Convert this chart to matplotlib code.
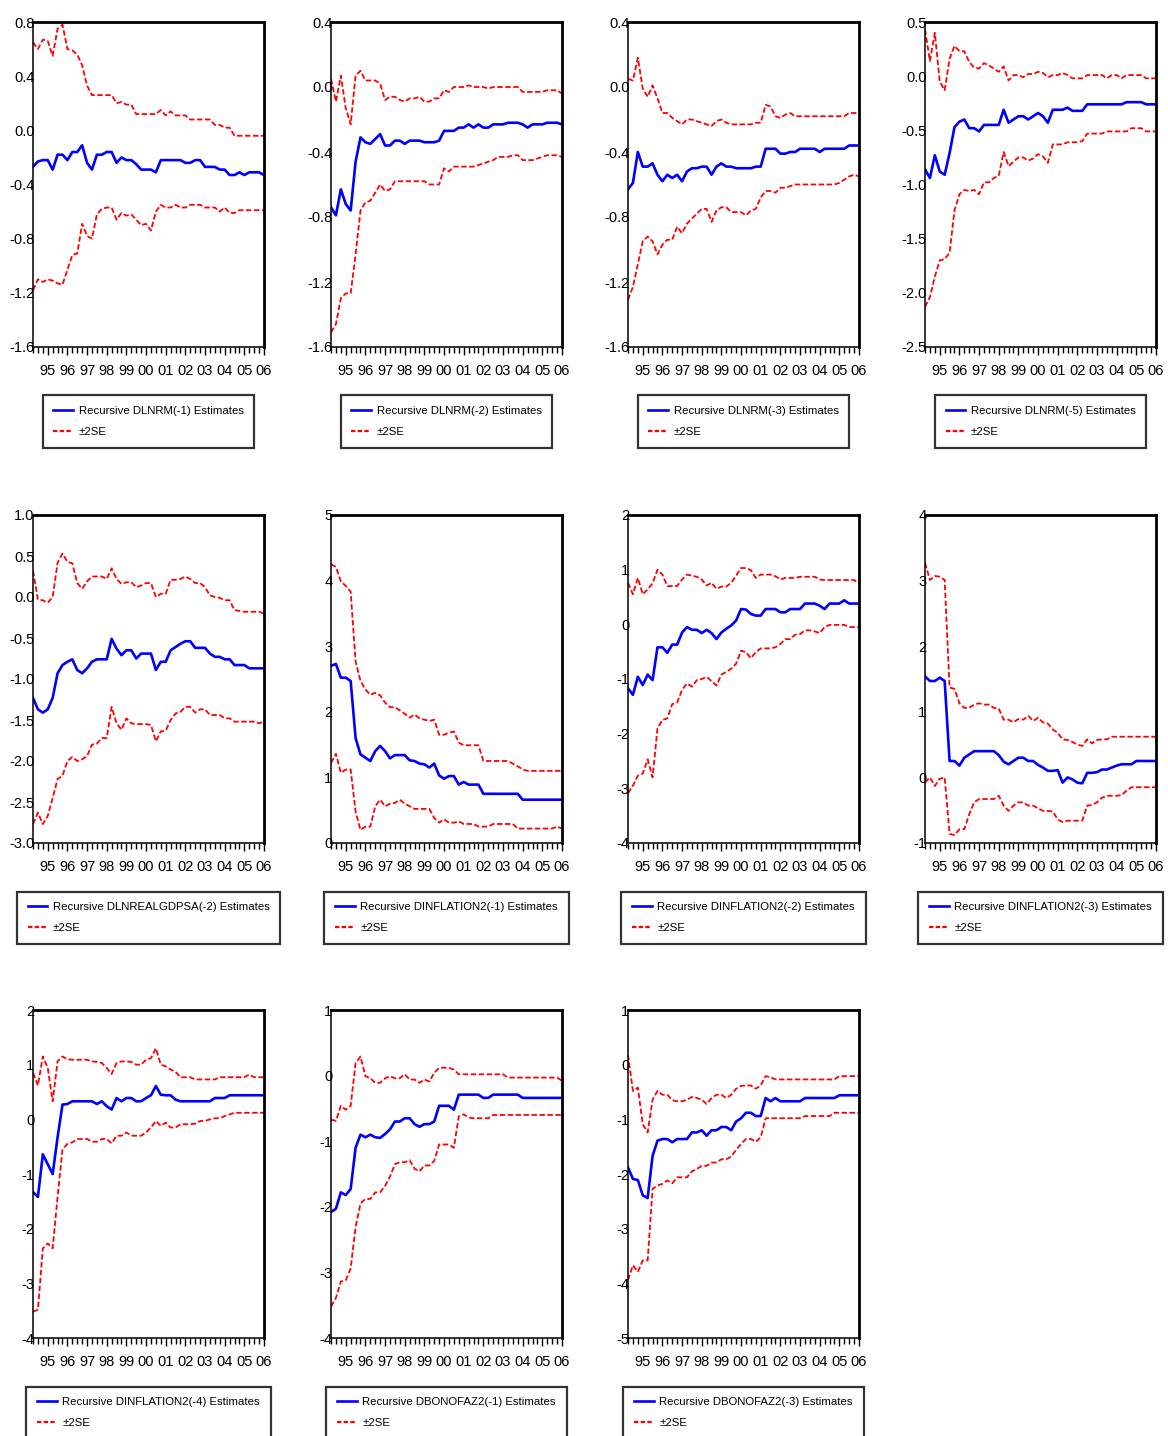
import numpy as np
import matplotlib
matplotlib.use("Agg")
import matplotlib.pyplot as plt
from matplotlib.lines import Line2D
from matplotlib import font_manager


def pick_family():
    # prefer a narrow face like the original EViews output, if one is installed
    for fam in ['Liberation Sans Narrow', 'Arial Narrow']:
        try:
            font_manager.findfont(fam, fallback_to_default=False)
            return fam
        except ValueError:
            pass
    return 'Liberation Sans'


FAMILY = pick_family()
plt.rcParams['font.family'] = [FAMILY, 'Liberation Sans', 'DejaVu Sans']

# quarterly sample 1994Q2 .. 2006Q1 (48 obs), year labels at Q1
year_labels = ["95", "96", "97", "98", "99", "00", "01", "02", "03", "04", "05", "06"]
year_pos = [3 + 4 * k for k in range(12)]

names = ["DLNRM(-1)", "DLNRM(-2)", "DLNRM(-3)", "DLNRM(-5)",
         "DLNREALGDPSA(-2)", "DINFLATION2(-1)", "DINFLATION2(-2)", "DINFLATION2(-3)",
         "DINFLATION2(-4)", "DBONOFAZ2(-1)", "DBONOFAZ2(-3)"]

ylims = [(-1.6, 0.8), (-1.6, 0.4), (-1.6, 0.4), (-2.5, 0.5),
         (-3.0, 1.0), (0, 5), (-4, 2), (-1, 4),
         (-4, 2), (-4, 1), (-5, 1)]
ysteps = [0.4, 0.4, 0.4, 0.5, 0.5, 1, 1, 1, 1, 1, 1]

est1 = [-0.27, -0.23, -0.22, -0.22, -0.29, -0.18, -0.18, -0.22, -0.16, -0.16, -0.11, -0.24, -0.29, -0.18, -0.18, -0.16,
        -0.16, -0.24, -0.20, -0.22, -0.22, -0.25, -0.29, -0.29, -0.29, -0.31, -0.22, -0.22, -0.22, -0.22, -0.22, -0.24,
        -0.24, -0.22, -0.22, -0.27, -0.27, -0.27, -0.29, -0.29, -0.33, -0.33, -0.31, -0.33, -0.31, -0.31, -0.31, -0.33]
up1 = [0.65, 0.60, 0.67, 0.66, 0.55, 0.75, 0.78, 0.60, 0.59, 0.56, 0.48, 0.33, 0.26, 0.26, 0.26, 0.26,
       0.26, 0.20, 0.21, 0.19, 0.19, 0.12, 0.12, 0.12, 0.12, 0.12, 0.15, 0.11, 0.14, 0.11, 0.11, 0.11,
       0.08, 0.08, 0.08, 0.08, 0.08, 0.04, 0.04, 0.02, 0.02, -0.04, -0.04, -0.04, -0.04, -0.04, -0.04, -0.04]
lo1 = [-1.18, -1.10, -1.12, -1.10, -1.11, -1.13, -1.14, -1.03, -0.92, -0.91, -0.69, -0.78, -0.80, -0.62, -0.58, -0.57,
       -0.57, -0.66, -0.61, -0.63, -0.62, -0.66, -0.70, -0.69, -0.74, -0.60, -0.55, -0.57, -0.57, -0.55, -0.57, -0.57,
       -0.55, -0.55, -0.55, -0.57, -0.57, -0.57, -0.60, -0.57, -0.61, -0.61, -0.59, -0.59, -0.59, -0.59, -0.59, -0.59]

est2 = [-0.74, -0.79, -0.63, -0.72, -0.76, -0.46, -0.31, -0.34, -0.35, -0.32, -0.29, -0.36, -0.36, -0.33, -0.33, -0.35,
        -0.33, -0.33, -0.33, -0.34, -0.34, -0.34, -0.33, -0.27, -0.27, -0.27, -0.25, -0.25, -0.23, -0.25, -0.23, -0.25,
        -0.25, -0.23, -0.23, -0.23, -0.22, -0.22, -0.22, -0.23, -0.25, -0.23, -0.23, -0.23, -0.22, -0.22, -0.22, -0.23]
up2 = [0.05, -0.09, 0.07, -0.13, -0.23, 0.07, 0.10, 0.04, 0.04, 0.04, 0.02, -0.08, -0.06, -0.06, -0.08, -0.09,
       -0.07, -0.07, -0.06, -0.09, -0.09, -0.07, -0.07, -0.02, -0.03, 0.0, 0.0, 0.0, 0.01, 0.0, 0.0, 0.0,
       -0.01, 0.0, 0.0, 0.0, 0.0, 0.0, 0.0, -0.03, -0.03, -0.03, -0.03, -0.03, -0.02, -0.02, -0.02, -0.04]
lo2 = [-1.51, -1.46, -1.30, -1.27, -1.27, -1.03, -0.76, -0.71, -0.70, -0.65, -0.60, -0.64, -0.63, -0.58, -0.58, -0.58,
       -0.58, -0.58, -0.58, -0.58, -0.60, -0.60, -0.60, -0.50, -0.52, -0.49, -0.49, -0.49, -0.49, -0.49, -0.48, -0.47,
       -0.46, -0.45, -0.43, -0.43, -0.43, -0.42, -0.42, -0.45, -0.45, -0.45, -0.44, -0.43, -0.42, -0.42, -0.42, -0.43]

est3 = [-0.63, -0.59, -0.40, -0.49, -0.49, -0.47, -0.54, -0.58, -0.54, -0.56, -0.54, -0.58, -0.52, -0.50, -0.50, -0.49,
        -0.49, -0.54, -0.49, -0.47, -0.49, -0.49, -0.50, -0.50, -0.50, -0.50, -0.49, -0.49, -0.38, -0.38, -0.38, -0.41,
        -0.41, -0.40, -0.40, -0.38, -0.38, -0.38, -0.38, -0.40, -0.38, -0.38, -0.38, -0.38, -0.38, -0.36, -0.36, -0.36]
up3 = [0.05, 0.04, 0.18, -0.01, -0.06, 0.01, -0.07, -0.16, -0.16, -0.19, -0.21, -0.23, -0.20, -0.20, -0.21, -0.22,
       -0.23, -0.24, -0.21, -0.20, -0.22, -0.23, -0.23, -0.23, -0.23, -0.23, -0.22, -0.22, -0.11, -0.12, -0.18, -0.19,
       -0.17, -0.16, -0.18, -0.18, -0.18, -0.18, -0.18, -0.18, -0.18, -0.18, -0.18, -0.18, -0.18, -0.16, -0.16, -0.16]
lo3 = [-1.31, -1.23, -1.09, -0.95, -0.92, -0.95, -1.03, -0.97, -0.94, -0.94, -0.86, -0.90, -0.84, -0.81, -0.78, -0.75,
       -0.75, -0.83, -0.76, -0.74, -0.74, -0.77, -0.77, -0.77, -0.79, -0.76, -0.75, -0.68, -0.64, -0.64, -0.65, -0.62,
       -0.62, -0.61, -0.60, -0.60, -0.60, -0.60, -0.60, -0.60, -0.60, -0.60, -0.60, -0.59, -0.57, -0.55, -0.54, -0.55]

est4 = [-0.86, -0.94, -0.73, -0.88, -0.91, -0.71, -0.47, -0.42, -0.40, -0.48, -0.48, -0.51, -0.45, -0.45, -0.45, -0.45,
        -0.31, -0.43, -0.40, -0.37, -0.37, -0.40, -0.37, -0.34, -0.37, -0.43, -0.31, -0.31, -0.31, -0.29, -0.32, -0.32,
        -0.32, -0.26, -0.26, -0.26, -0.26, -0.26, -0.26, -0.26, -0.26, -0.24, -0.24, -0.24, -0.24, -0.26, -0.26, -0.26]
up4 = [0.43, 0.14, 0.40, -0.05, -0.13, 0.16, 0.28, 0.23, 0.23, 0.13, 0.08, 0.07, 0.12, 0.10, 0.07, 0.04,
       0.09, -0.04, 0.01, 0.01, -0.01, 0.02, 0.02, 0.04, 0.03, -0.01, 0.01, 0.01, 0.03, 0.01, -0.02, -0.02,
       -0.02, 0.01, 0.01, 0.01, 0.01, -0.02, 0.01, 0.01, -0.02, 0.01, 0.01, 0.01, 0.01, -0.02, -0.02, -0.02]
lo4 = [-2.13, -2.04, -1.85, -1.70, -1.69, -1.63, -1.24, -1.09, -1.05, -1.06, -1.05, -1.09, -0.98, -0.98, -0.94, -0.92,
       -0.70, -0.83, -0.79, -0.75, -0.75, -0.78, -0.76, -0.72, -0.74, -0.80, -0.63, -0.63, -0.63, -0.61, -0.61, -0.61,
       -0.60, -0.53, -0.53, -0.53, -0.53, -0.51, -0.51, -0.51, -0.51, -0.51, -0.48, -0.48, -0.48, -0.51, -0.51, -0.51]

est5 = [-1.23, -1.37, -1.41, -1.37, -1.23, -0.93, -0.83, -0.79, -0.76, -0.89, -0.93, -0.87, -0.79, -0.76, -0.76, -0.76,
        -0.51, -0.63, -0.71, -0.65, -0.65, -0.75, -0.69, -0.69, -0.69, -0.89, -0.79, -0.79, -0.65, -0.61, -0.57, -0.54,
        -0.54, -0.62, -0.62, -0.62, -0.69, -0.73, -0.73, -0.76, -0.76, -0.83, -0.83, -0.83, -0.87, -0.87, -0.87, -0.87]
up5 = [0.32, -0.03, -0.04, -0.07, 0.0, 0.42, 0.53, 0.43, 0.41, 0.17, 0.10, 0.19, 0.25, 0.25, 0.25, 0.22,
       0.35, 0.22, 0.16, 0.18, 0.18, 0.12, 0.14, 0.17, 0.17, 0.0, 0.04, 0.04, 0.21, 0.21, 0.22, 0.25,
       0.22, 0.17, 0.17, 0.12, 0.02, 0.0, -0.01, -0.04, -0.04, -0.16, -0.17, -0.18, -0.18, -0.18, -0.18, -0.20]
lo5 = [-2.77, -2.63, -2.77, -2.67, -2.45, -2.22, -2.18, -2.00, -1.95, -2.00, -1.98, -1.94, -1.80, -1.79, -1.72, -1.72,
       -1.34, -1.54, -1.62, -1.48, -1.54, -1.55, -1.55, -1.55, -1.56, -1.76, -1.64, -1.63, -1.50, -1.42, -1.40, -1.34,
       -1.34, -1.41, -1.37, -1.37, -1.44, -1.44, -1.44, -1.48, -1.48, -1.52, -1.52, -1.52, -1.52, -1.52, -1.54, -1.52]

est6 = [2.70, 2.73, 2.52, 2.52, 2.47, 1.60, 1.35, 1.30, 1.25, 1.40, 1.48, 1.40, 1.29, 1.34, 1.34, 1.34,
        1.26, 1.25, 1.21, 1.20, 1.15, 1.21, 1.03, 0.98, 1.02, 1.02, 0.89, 0.93, 0.89, 0.89, 0.89, 0.75,
        0.75, 0.75, 0.75, 0.75, 0.75, 0.75, 0.75, 0.66, 0.66, 0.66, 0.66, 0.66, 0.66, 0.66, 0.66, 0.66]
up6 = [4.25, 4.21, 3.99, 3.92, 3.83, 2.77, 2.47, 2.34, 2.26, 2.29, 2.25, 2.14, 2.07, 2.07, 2.02, 1.97,
       1.91, 1.96, 1.90, 1.88, 1.86, 1.88, 1.65, 1.65, 1.68, 1.70, 1.53, 1.49, 1.49, 1.49, 1.49, 1.25,
       1.25, 1.25, 1.25, 1.25, 1.25, 1.21, 1.17, 1.12, 1.10, 1.10, 1.10, 1.10, 1.10, 1.10, 1.10, 1.10]
lo6 = [1.22, 1.36, 1.07, 1.12, 1.12, 0.48, 0.20, 0.25, 0.25, 0.56, 0.66, 0.56, 0.60, 0.61, 0.66, 0.60,
       0.56, 0.52, 0.52, 0.52, 0.52, 0.38, 0.31, 0.36, 0.31, 0.31, 0.33, 0.29, 0.29, 0.29, 0.25, 0.25,
       0.25, 0.29, 0.29, 0.29, 0.29, 0.29, 0.22, 0.22, 0.22, 0.22, 0.22, 0.22, 0.22, 0.22, 0.25, 0.22]

est7 = [-1.17, -1.29, -0.96, -1.11, -0.92, -1.02, -0.42, -0.42, -0.52, -0.37, -0.37, -0.15, -0.05, -0.10, -0.10, -0.16,
        -0.10, -0.16, -0.27, -0.15, -0.08, -0.02, 0.07, 0.28, 0.27, 0.19, 0.16, 0.16, 0.28, 0.28, 0.28, 0.22,
        0.22, 0.28, 0.28, 0.28, 0.38, 0.38, 0.38, 0.34, 0.28, 0.38, 0.38, 0.38, 0.44, 0.38, 0.38, 0.38]
up7 = [0.76, 0.55, 0.85, 0.55, 0.64, 0.75, 1.00, 0.91, 0.70, 0.70, 0.70, 0.82, 0.91, 0.89, 0.87, 0.82,
       0.71, 0.76, 0.65, 0.69, 0.69, 0.76, 0.89, 1.03, 1.03, 0.99, 0.85, 0.91, 0.91, 0.91, 0.88, 0.82,
       0.85, 0.85, 0.85, 0.87, 0.87, 0.87, 0.87, 0.82, 0.81, 0.81, 0.81, 0.81, 0.81, 0.81, 0.81, 0.75]
lo7 = [-3.09, -2.95, -2.77, -2.73, -2.47, -2.80, -1.90, -1.75, -1.72, -1.46, -1.43, -1.20, -1.08, -1.14, -1.02, -1.00,
       -0.96, -1.04, -1.12, -0.92, -0.87, -0.81, -0.72, -0.48, -0.51, -0.62, -0.51, -0.44, -0.44, -0.44, -0.42, -0.36,
       -0.27, -0.27, -0.19, -0.18, -0.11, -0.11, -0.13, -0.16, -0.05, -0.01, -0.01, -0.01, -0.01, -0.05, -0.05, -0.05]

est8 = [1.54, 1.47, 1.47, 1.52, 1.47, 0.25, 0.25, 0.18, 0.30, 0.35, 0.40, 0.40, 0.40, 0.40, 0.40, 0.34,
        0.24, 0.20, 0.25, 0.30, 0.30, 0.25, 0.25, 0.19, 0.15, 0.10, 0.10, 0.11, -0.08, 0.0, -0.03, -0.08,
        -0.09, 0.07, 0.07, 0.08, 0.12, 0.12, 0.15, 0.18, 0.20, 0.20, 0.20, 0.25, 0.25, 0.25, 0.25, 0.25]
up8 = [3.27, 3.01, 3.07, 3.06, 3.01, 1.37, 1.35, 1.13, 1.06, 1.06, 1.11, 1.13, 1.11, 1.11, 1.06, 1.05,
       0.88, 0.88, 0.84, 0.89, 0.88, 0.94, 0.86, 0.91, 0.84, 0.82, 0.73, 0.68, 0.58, 0.57, 0.54, 0.50,
       0.48, 0.58, 0.52, 0.57, 0.58, 0.58, 0.62, 0.62, 0.62, 0.62, 0.62, 0.62, 0.62, 0.62, 0.62, 0.62]
lo8 = [-0.08, 0.0, -0.13, -0.02, 0.0, -0.86, -0.88, -0.79, -0.79, -0.56, -0.38, -0.33, -0.33, -0.33, -0.33, -0.28,
       -0.43, -0.51, -0.43, -0.38, -0.38, -0.43, -0.43, -0.47, -0.51, -0.51, -0.52, -0.64, -0.68, -0.66, -0.66, -0.66,
       -0.66, -0.43, -0.42, -0.38, -0.31, -0.28, -0.28, -0.28, -0.27, -0.20, -0.15, -0.15, -0.15, -0.15, -0.15, -0.15]

est9 = [-1.33, -1.42, -0.64, -0.82, -1.00, -0.33, 0.27, 0.28, 0.33, 0.33, 0.33, 0.33, 0.33, 0.28, 0.33, 0.24,
        0.18, 0.39, 0.33, 0.39, 0.39, 0.33, 0.33, 0.39, 0.44, 0.61, 0.45, 0.44, 0.44, 0.36, 0.33, 0.33,
        0.33, 0.33, 0.33, 0.33, 0.33, 0.39, 0.39, 0.39, 0.44, 0.44, 0.44, 0.44, 0.44, 0.44, 0.44, 0.44]
up9 = [0.85, 0.62, 1.15, 0.94, 0.33, 1.06, 1.15, 1.10, 1.09, 1.09, 1.09, 1.09, 1.06, 1.05, 1.03, 0.94,
       0.83, 1.03, 1.06, 1.06, 1.05, 1.00, 1.00, 1.09, 1.12, 1.30, 1.00, 0.97, 0.91, 0.87, 0.77, 0.77,
       0.77, 0.73, 0.73, 0.73, 0.73, 0.73, 0.77, 0.77, 0.77, 0.77, 0.77, 0.77, 0.82, 0.77, 0.77, 0.77]
lo9 = [-3.52, -3.48, -2.36, -2.27, -2.36, -1.42, -0.55, -0.45, -0.42, -0.36, -0.36, -0.36, -0.41, -0.41, -0.36, -0.36,
       -0.44, -0.30, -0.30, -0.24, -0.30, -0.30, -0.30, -0.24, -0.15, -0.03, -0.12, -0.06, -0.15, -0.15, -0.09, -0.09,
       -0.09, -0.08, -0.03, -0.03, 0.0, 0.02, 0.02, 0.06, 0.09, 0.12, 0.12, 0.12, 0.12, 0.12, 0.12, 0.12]

est10 = [-2.08, -2.03, -1.78, -1.82, -1.73, -1.10, -0.90, -0.94, -0.90, -0.94, -0.95, -0.89, -0.82, -0.70, -0.70, -0.65,
         -0.65, -0.74, -0.78, -0.74, -0.74, -0.70, -0.46, -0.46, -0.46, -0.52, -0.29, -0.29, -0.29, -0.29, -0.29, -0.34,
         -0.34, -0.29, -0.29, -0.29, -0.29, -0.29, -0.29, -0.34, -0.34, -0.34, -0.34, -0.34, -0.34, -0.34, -0.34, -0.34]
up10 = [-0.67, -0.69, -0.46, -0.52, -0.46, 0.19, 0.29, -0.01, -0.04, -0.11, -0.11, -0.04, -0.01, -0.04, -0.04, 0.02,
        -0.06, -0.06, -0.11, -0.06, -0.09, 0.04, 0.12, 0.12, 0.12, 0.09, 0.02, 0.02, 0.02, 0.02, 0.02, 0.02,
        0.02, 0.02, 0.02, 0.02, -0.03, -0.03, -0.03, -0.03, -0.03, -0.03, -0.03, -0.03, -0.03, -0.03, -0.03, -0.08]
lo10 = [-3.52, -3.39, -3.14, -3.12, -2.94, -2.31, -1.95, -1.88, -1.88, -1.78, -1.78, -1.68, -1.54, -1.35, -1.32, -1.32,
        -1.29, -1.42, -1.46, -1.37, -1.37, -1.30, -1.05, -1.05, -1.05, -1.10, -0.62, -0.59, -0.64, -0.65, -0.65, -0.65,
        -0.65, -0.60, -0.60, -0.60, -0.60, -0.60, -0.60, -0.60, -0.60, -0.60, -0.60, -0.60, -0.60, -0.60, -0.60, -0.60]

est11 = [-1.88, -2.09, -2.11, -2.39, -2.44, -1.67, -1.39, -1.36, -1.36, -1.42, -1.36, -1.36, -1.36, -1.24, -1.24, -1.20,
         -1.30, -1.20, -1.20, -1.14, -1.14, -1.20, -1.04, -0.98, -0.88, -0.88, -0.94, -0.94, -0.61, -0.67, -0.61, -0.67,
         -0.67, -0.67, -0.67, -0.67, -0.61, -0.61, -0.61, -0.61, -0.61, -0.61, -0.61, -0.56, -0.56, -0.56, -0.56, -0.56]
up11 = [0.18, -0.48, -0.42, -1.09, -1.24, -0.64, -0.48, -0.55, -0.55, -0.65, -0.67, -0.67, -0.64, -0.59, -0.61, -0.64,
        -0.72, -0.61, -0.55, -0.55, -0.61, -0.55, -0.44, -0.39, -0.38, -0.38, -0.44, -0.38, -0.21, -0.23, -0.27, -0.27,
        -0.27, -0.27, -0.27, -0.27, -0.27, -0.27, -0.27, -0.27, -0.27, -0.27, -0.27, -0.21, -0.21, -0.21, -0.21, -0.21]
lo11 = [-3.94, -3.67, -3.79, -3.58, -3.58, -2.27, -2.21, -2.18, -2.12, -2.17, -2.06, -2.06, -2.06, -1.95, -1.91, -1.85,
        -1.85, -1.79, -1.79, -1.73, -1.73, -1.68, -1.56, -1.45, -1.36, -1.36, -1.41, -1.33, -0.98, -0.98, -0.98, -0.98,
        -0.98, -0.98, -0.98, -0.98, -0.94, -0.94, -0.94, -0.94, -0.94, -0.94, -0.88, -0.88, -0.88, -0.88, -0.88, -0.88]

estimates = [est1, est2, est3, est4, est5, est6, est7, est8, est9, est10, est11]
uppers = [up1, up2, up3, up4, up5, up6, up7, up8, up9, up10, up11]
lowers = [lo1, lo2, lo3, lo4, lo5, lo6, lo7, lo8, lo9, lo10, lo11]


def fmt_tick(v, step):
    if abs(v) < 1e-9:
        v = 0.0
    if step < 1:
        return f"{v:.1f}"
    return f"{int(round(v))}"


W, H = 1168, 1436
fig = plt.figure(figsize=(W / 100, H / 100), dpi=100)

col_left = [33, 331, 628, 925]
row_top = [22, 515, 1010]
row_h = [325, 328, 328]
ax_w = 231

blue = "#0000FF"
red = "#FF0000"
dash = (0, (3, 1.4))

for i, name in enumerate(names):
    r, c = divmod(i, 4)
    left, top, h = col_left[c], row_top[r], row_h[r]
    ax = fig.add_axes([left / W, 1 - (top + h) / H, ax_w / W, h / H])

    est, up, lo = estimates[i], uppers[i], lowers[i]
    ax.plot(np.arange(len(up)), up, color=red, lw=1.3, ls=dash)
    ax.plot(np.arange(len(lo)), lo, color=red, lw=1.3, ls=dash)
    ax.plot(np.arange(len(est)), est, color=blue, lw=1.9)

    ax.set_xlim(0, 47)
    y0, y1 = ylims[i]
    ax.set_ylim(y0, y1)
    yt = np.round(np.arange(y0, y1 + ysteps[i] / 2, ysteps[i]), 6)
    ax.set_yticks(yt)
    ax.set_yticklabels([fmt_tick(v, ysteps[i]) for v in yt], fontsize=10.5)
    ax.tick_params(axis='y', length=0, pad=-1)

    ax.set_xticks(year_pos)
    ax.set_xticklabels(year_labels, fontsize=10.5)
    ax.set_xticks(np.arange(0, 48), minor=True)
    ax.tick_params(axis='x', which='major', direction='out', length=6, width=1, pad=6)
    ax.tick_params(axis='x', which='minor', direction='out', length=4.5, width=1)

    for side in ['left', 'bottom']:
        ax.spines[side].set_linewidth(1.1)
    for side in ['top', 'right']:
        ax.spines[side].set_linewidth(2.0)

    handles = [Line2D([], [], color=blue, lw=1.9),
               Line2D([], [], color=red, lw=1.6, ls=(0, (2, 1)))]
    labels = [f"Recursive {name} Estimates", "\u00b12SE"]
    leg = ax.legend(handles, labels, loc='upper center', bbox_to_anchor=(0.5, -0.148),
                    fontsize=8.2, frameon=True, fancybox=False, edgecolor='black',
                    handlelength=1.7, handletextpad=0.5, borderpad=0.95,
                    labelspacing=0.95, borderaxespad=0)
    leg.get_frame().set_linewidth(1.6)

fig.savefig("out.png", dpi=100)
